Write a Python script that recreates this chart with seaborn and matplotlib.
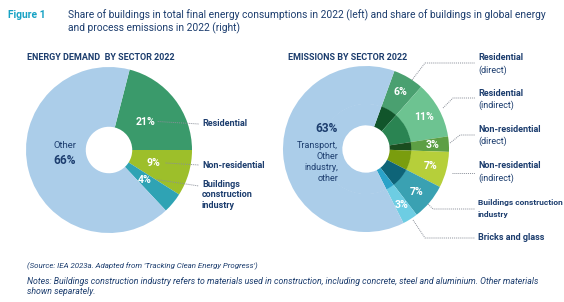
import numpy as np
import matplotlib
matplotlib.use("Agg")
import matplotlib.pyplot as plt
import seaborn as sns

# left donut: energy demand by sector 2022 (%)
energy_names = ["Residential", "Non-residential", "Buildings\nconstruction\nindustry", "Other"]
energy_values = [21, 9, 4, 66]
energy_colors = ["#3a9a6b", "#9dbf2a", "#2fa3b4", "#abcde9"]

# right donut: emissions by sector 2022 (%)
emis_names = ["Residential", "Residential", "Non-residential", "Non-residential",
              "Buildings construction", "Bricks and glass", "Other"]
emis_sub = ["(direct)", "(indirect)", "(direct)", "(indirect)", "industry", "", ""]
emis_values = [6, 11, 3, 7, 7, 3, 63]
emis_outer_colors = ["#4aa070", "#6dc391", "#5d9f44", "#b6cf3a", "#3aa1b2", "#6dcde3", "#abcde9"]
emis_inner_colors = ["#11552b", "#2a8452", "#1a4d1f", "#7a9d0e", "#0e6478", "#2aa2c8", "#abcde9"]

NAVY = "#1c3d6e"
CYAN = "#17a2c4"
W, H = 564, 302

sns.set_theme(style="white")
plt.rcParams["font.family"] = ["Roboto", "DejaVu Sans"]

fig = plt.figure(figsize=(W / 100, H / 100), dpi=100)


def donut_axes(cx, cy, r):
    return fig.add_axes([(cx - r) / W, 1 - (cy + r) / H, 2 * r / W, 2 * r / H])


def mid_angles(values, start):
    v = np.array(values, dtype=float)
    ends = start - np.cumsum(v) * 3.6
    return ends + v * 1.8


# left donut, residential slice ends at the horizontal
L_CX, L_CY, L_R = 109, 150, 83
axl = donut_axes(L_CX, L_CY, L_R)
L_START = energy_values[0] * 3.6
axl.pie(energy_values, colors=energy_colors, startangle=L_START, counterclock=False,
        radius=1, wedgeprops=dict(width=0.72, linewidth=0))
axl.set_xlim(-1, 1)
axl.set_ylim(-1, 1)
axl.axis("off")

# right donut, outer ring + darker inner ring
R_CX, R_CY, R_R = 366, 149, 83
axr = donut_axes(R_CX, R_CY, R_R)
R_START = 70
axr.pie(emis_values, colors=emis_outer_colors, startangle=R_START, counterclock=False,
        radius=1, wedgeprops=dict(width=0.46, linewidth=0))
axr.pie(emis_values, colors=emis_inner_colors, startangle=R_START, counterclock=False,
        radius=0.545, wedgeprops=dict(width=0.26, linewidth=0))
axr.set_xlim(-1, 1)
axr.set_ylim(-1, 1)
axr.axis("off")

# overlay in pixel coordinates for text and leader lines
ax = fig.add_axes([0, 0, 1, 1])
ax.set_xlim(0, W)
ax.set_ylim(H, 0)
ax.axis("off")
ax.patch.set_alpha(0)

# titles
ax.text(8, 15, "Figure 1", color=CYAN, fontsize=7.4, fontweight="bold", va="center")
ax.text(68, 15, "Share of buildings in total final energy consumptions in 2022 (left) and share of buildings in global energy",
        color=NAVY, fontsize=7.4, va="center")
ax.text(68, 28, "and process emissions in 2022 (right)", color=NAVY, fontsize=7.4, va="center")
ax.text(27, 57, "ENERGY DEMAND  BY SECTOR 2022", color=NAVY, fontsize=6.5, fontweight="bold", va="center")
ax.text(288, 57, "EMISSIONS BY SECTOR 2022", color=NAVY, fontsize=6.5, fontweight="bold", va="center")

dot = dict(color="#8a8f99", lw=0.7, ls=(0, (1, 1)))

# left donut labels
lm = mid_angles(energy_values, L_START)
lab_y = [124, 165, 186]
for k in range(3):
    a = np.deg2rad(lm[k])
    rr = 0.56 * L_R
    px, py = L_CX + rr * np.cos(a), L_CY - rr * np.sin(a)
    ax.text(px, py, f"{energy_values[k]}%", color="white", fontsize=7.6, fontweight="bold",
            ha="center", va="center")
    ax.plot([px + 12, 199], [py, lab_y[k]], **dot)
    if k < 2:
        ax.text(202, lab_y[k], energy_names[k], color=NAVY, fontsize=6.5, fontweight="bold",
                va="center")
    else:
        ax.text(202, lab_y[k] - 6, energy_names[k], color=NAVY, fontsize=6.5, fontweight="bold",
                va="top", linespacing=1.2)
ax.text(65, 146, "Other", color=NAVY, fontsize=6.8, ha="center", va="center")
ax.text(65, 160, f"{energy_values[3]}%", color=NAVY, fontsize=8.6, fontweight="bold",
        ha="center", va="center")

# right donut labels
rm = mid_angles(emis_values, R_START)
name_y = [58, 93, 129, 166, 203, 238]
elbows = [((412, 80), (425, 63)), ((443, 108), (453, 98)), ((450, 143), (460, 135)),
          ((452, 173), (452, 173)), ((428, 204), (433, 209)), ((413, 220), (425, 238))]
line_y = [63, 98, 135, 173, 209, 238]
for k in range(6):
    a = np.deg2rad(rm[k])
    rr = 0.8 * R_R
    px, py = R_CX + rr * np.cos(a), R_CY - rr * np.sin(a)
    ax.text(px, py, f"{emis_values[k]}%", color="white", fontsize=7.6, fontweight="bold",
            ha="center", va="center")
    (x0, y0), (x1, y1) = elbows[k]
    ax.plot([x0, x1, 475], [y0, y1, line_y[k]], **dot)
    fs = 6.0 if k == 4 else 6.5  # long label, keep it inside the figure
    ax.text(478, name_y[k], emis_names[k], color=NAVY, fontsize=fs, fontweight="bold", va="center")
    if emis_sub[k]:
        ax.text(478, name_y[k] + 12, emis_sub[k], color=NAVY, fontsize=fs,
                fontweight="bold" if k == 4 else "normal", va="center")
ax.text(338, 129, f"{emis_values[6]}%", color=NAVY, fontsize=8.6, fontweight="bold", ha="right", va="center")
ax.text(338, 162, "Transport,\nOther\nindustry,\nother", color=NAVY, fontsize=6.5, ha="right",
        va="center", linespacing=1.25)

# footer
ax.text(27, 266, "(Source: IEA 2023a. Adapted from 'Tracking Clean Energy Progress')",
        color=NAVY, fontsize=5.7, style="italic", va="center")
ax.text(27, 282, "Notes: Buildings construction industry refers to materials used in construction, "
        "including concrete, steel and aluminium. Other materials", color=NAVY, fontsize=6.3,
        style="italic", va="center")
ax.text(27, 292, "shown separately.", color=NAVY, fontsize=6.3, style="italic", va="center")

fig.savefig("out.png", dpi=100, facecolor="white")
